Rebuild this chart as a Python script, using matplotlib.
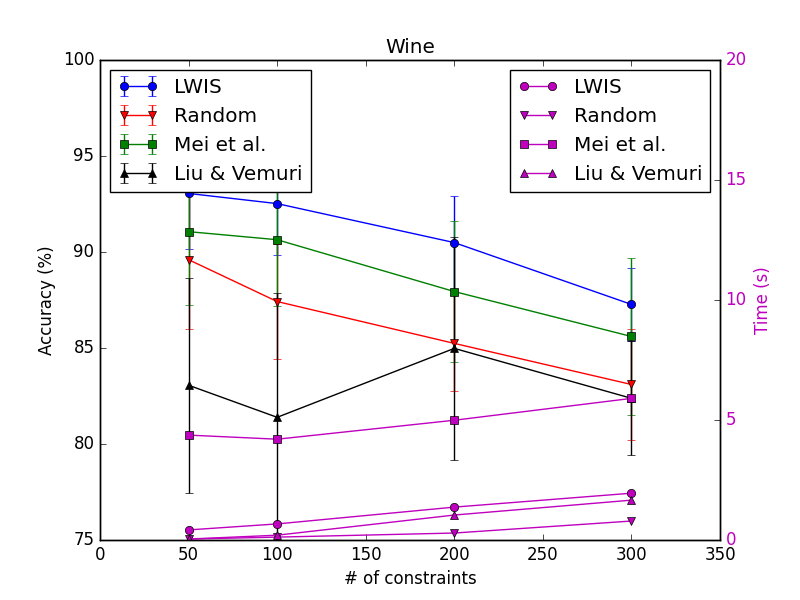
import numpy as np
import matplotlib
matplotlib.use('Agg')
import matplotlib.pyplot as plt

plt.style.use('classic')

constraints = [50, 100, 200, 300]
methods = ['LWIS', 'Random', 'Mei et al.', 'Liu & Vemuri']

acc_lwis = [93.05, 92.52, 90.49, 87.27]
acc_random = [89.6, 87.42, 85.24, 83.1]
acc_mei = [91.06, 90.64, 87.94, 85.6]
acc_liu = [83.06, 81.39, 84.98, 82.38]

err_lwis = [2.9, 2.7, 2.42, 1.9]
err_random = [3.6, 3.0, 2.5, 2.9]
err_mei = [3.8, 3.46, 3.66, 4.1]
err_liu = [5.6, 6.5, 5.8, 2.96]

time_lwis = [0.42, 0.67, 1.37, 1.95]
time_random = [0.04, 0.12, 0.29, 0.79]
time_mei = [4.37, 4.2, 4.99, 5.9]
time_liu = [0.04, 0.2, 1.04, 1.66]

fig, ax = plt.subplots(figsize=(8, 6), dpi=100)

ax.errorbar(constraints, acc_lwis, yerr=err_lwis, fmt='-o', color='b', label=methods[0])
ax.errorbar(constraints, acc_random, yerr=err_random, fmt='-v', color='r', label=methods[1])
ax.errorbar(constraints, acc_mei, yerr=err_mei, fmt='-s', color='g', label=methods[2])
ax.errorbar(constraints, acc_liu, yerr=err_liu, fmt='-^', color='k', label=methods[3])

ax.set_xlim(0, 350)
ax.set_ylim(75, 100)
ax.set_xlabel('# of constraints')
ax.set_ylabel('Accuracy (%)')
ax.set_title('Wine')
ax.legend(loc='upper left')

ax2 = ax.twinx()
ax2.plot(constraints, time_lwis, '-o', color='m', label=methods[0])
ax2.plot(constraints, time_random, '-v', color='m', label=methods[1])
ax2.plot(constraints, time_mei, '-s', color='m', label=methods[2])
ax2.plot(constraints, time_liu, '-^', color='m', label=methods[3])
ax2.set_ylim(0, 20)
ax2.set_ylabel('Time (s)', color='m')
for t in ax2.get_yticklabels():
    t.set_color('m')
ax2.legend(loc='upper right')

plt.savefig('out.png')
